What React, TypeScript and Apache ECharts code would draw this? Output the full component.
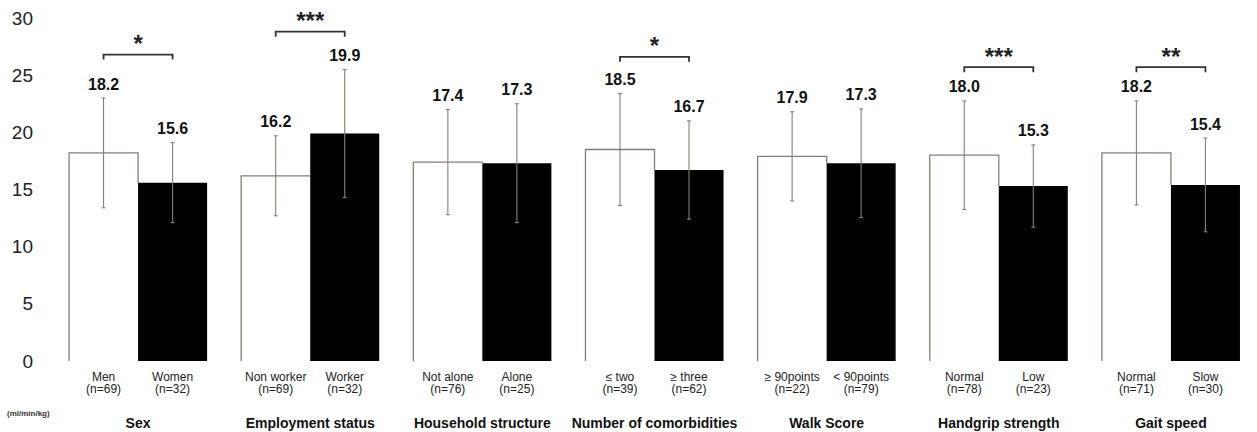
import React, { useEffect, useRef } from "react";
import * as echarts from "echarts";

const groups = ["Sex", "Employment status", "Household structure", "Number of comorbidities", "Walk Score", "Handgrip strength", "Gait speed"];
const whiteLabels = ["Men\n(n=69)", "Non worker\n(n=69)", "Not alone\n(n=76)", "≤ two\n(n=39)", "≥ 90points\n(n=22)", "Normal\n(n=78)", "Normal\n(n=71)"];
const blackLabels = ["Women\n(n=32)", "Worker\n(n=32)", "Alone\n(n=25)", "≥ three\n(n=62)", "< 90points\n(n=79)", "Low\n(n=23)", "Slow\n(n=30)"];
const whiteMeans = [18.2, 16.2, 17.4, 18.5, 17.9, 18.0, 18.2];
const blackMeans = [15.6, 19.9, 17.3, 16.7, 17.3, 15.3, 15.4];
const whiteSD = [4.8, 3.5, 4.6, 4.9, 3.9, 4.75, 4.55];
const blackSD = [3.5, 5.6, 5.2, 4.3, 4.75, 3.6, 4.1];
const sigMarks = ["*", "***", "", "*", "", "***", "**"];
const sigLevels = [26.8, 28.8, 0, 26.6, 0, 25.7, 25.7];
const yTicks = { min: 0, max: 30, interval: 5 };
const unitLabel = "(ml/min/kg)";

const FONT = "'Liberation Sans', Arial, sans-serif";
const GAP = 0.198;
const LINE = "#8c7c78";

export default function App() {
  const ref = useRef<HTMLDivElement>(null);
  useEffect(() => {
    document.body.style.margin = "0";
    const chart = echarts.init(ref.current!, null, { renderer: "svg" });

    const errData: number[][] = [];
    groups.forEach((_, i) => {
      errData.push([i, whiteMeans[i], whiteSD[i], 0, blackMeans[i]]);
      errData.push([i, blackMeans[i], blackSD[i], 1, whiteMeans[i]]);
    });
    const sigData = groups
      .map((_, i) => [i, sigLevels[i]])
      .filter((d) => sigMarks[d[0]] !== "");

    const option: any = {
      animation: false,
      grid: { left: 52, top: 18, width: 1222, height: 343 },
      xAxis: {
        type: "category",
        data: groups,
        axisLine: { show: false },
        axisTick: { show: false },
        axisLabel: { interval: 0, margin: 55, fontFamily: FONT, fontWeight: "bold", fontSize: 14, color: "#111" },
      },
      yAxis: {
        type: "value",
        min: yTicks.min,
        max: yTicks.max,
        interval: yTicks.interval,
        axisLine: { show: false },
        axisTick: { show: false },
        splitLine: { show: false },
        axisLabel: { margin: 19, fontFamily: FONT, fontSize: 19, color: "#222" },
      },
      series: [
        {
          type: "bar",
          data: whiteMeans,
          barGap: "0%",
          barCategoryGap: GAP * 100 + "%",
          itemStyle: { color: "#ffffff" },
          silent: true,
        },
        {
          type: "bar",
          data: blackMeans,
          barGap: "0%",
          barCategoryGap: GAP * 100 + "%",
          itemStyle: { color: "#000000" },
          silent: true,
        },
        {
          type: "custom",
          data: errData,
          silent: true,
          z: 5,
          renderItem: (params: any, api: any) => {
            const i = api.value(0);
            const mean = api.value(1);
            const sd = api.value(2);
            const side = api.value(3);
            const other = api.value(4);
            const bw = api.size([1, 0])[0];
            const barW = (bw * (1 - GAP)) / 2;
            const gc = api.coord([i, 0])[0];
            const cx = side === 0 ? gc - barW / 2 : gc + barW / 2;
            const y0 = api.coord([i, 0])[1];
            const yMean = api.coord([i, mean])[1];
            const yTop = api.coord([i, mean + sd])[1];
            const yBot = api.coord([i, mean - sd])[1];
            const yOther = api.coord([i, other])[1];
            const children: any[] = [];
            if (side === 0) {
              const pts: number[][] = [
                [cx - barW / 2, y0],
                [cx - barW / 2, yMean],
                [cx + barW / 2, yMean],
              ];
              if (yOther > yMean) pts.push([cx + barW / 2, yOther]);
              children.push({
                type: "polyline",
                shape: { points: pts },
                style: { stroke: LINE, lineWidth: 1.3, fill: null },
              });
            }
            children.push({
              type: "line",
              shape: { x1: cx, y1: yTop, x2: cx, y2: yBot },
              style: { stroke: LINE, lineWidth: 1.1 },
            });
            children.push({
              type: "line",
              shape: { x1: cx - 2, y1: yTop, x2: cx + 2, y2: yTop },
              style: { stroke: LINE, lineWidth: 1.1 },
            });
            children.push({
              type: "line",
              shape: { x1: cx - 2, y1: yBot, x2: cx + 2, y2: yBot },
              style: { stroke: LINE, lineWidth: 1.1 },
            });
            children.push({
              type: "text",
              x: cx,
              y: yTop - 6,
              style: {
                text: mean.toFixed(1),
                align: "center",
                verticalAlign: "bottom",
                font: "bold 16px " + FONT,
                fill: "#111",
              },
            });
            children.push({
              type: "text",
              x: cx,
              y: y0 + 10,
              style: {
                text: side === 0 ? whiteLabels[i] : blackLabels[i],
                align: "center",
                verticalAlign: "top",
                font: "12px " + FONT,
                lineHeight: 12,
                fill: "#222",
              },
            });
            return { type: "group", children };
          },
        },
        {
          type: "custom",
          data: sigData,
          silent: true,
          z: 6,
          renderItem: (params: any, api: any) => {
            const i = api.value(0);
            const level = api.value(1);
            const bw = api.size([1, 0])[0];
            const barW = (bw * (1 - GAP)) / 2;
            const gc = api.coord([i, 0])[0];
            const x1 = gc - barW / 2;
            const x2 = gc + barW / 2;
            const y = api.coord([i, level])[1];
            return {
              type: "group",
              children: [
                {
                  type: "polyline",
                  shape: { points: [[x1, y + 5], [x1, y], [x2, y], [x2, y + 5]] },
                  style: { stroke: "#333", lineWidth: 1.8, fill: null },
                },
                {
                  type: "text",
                  x: gc,
                  y: y - 11,
                  style: {
                    text: sigMarks[i],
                    align: "center",
                    verticalAlign: "middle",
                    font: "bold 24px " + FONT,
                    fill: "#222",
                  },
                },
              ],
            };
          },
        },
      ],
      graphic: [
        {
          type: "text",
          left: 7,
          top: 409,
          style: { text: unitLabel, font: "bold 8px " + FONT, fill: "#333" },
        },
      ],
    };
    chart.setOption(option);
    return () => chart.dispose();
  }, []);
  return <div ref={ref} style={{ width: 1257, height: 432 }} />;
}
